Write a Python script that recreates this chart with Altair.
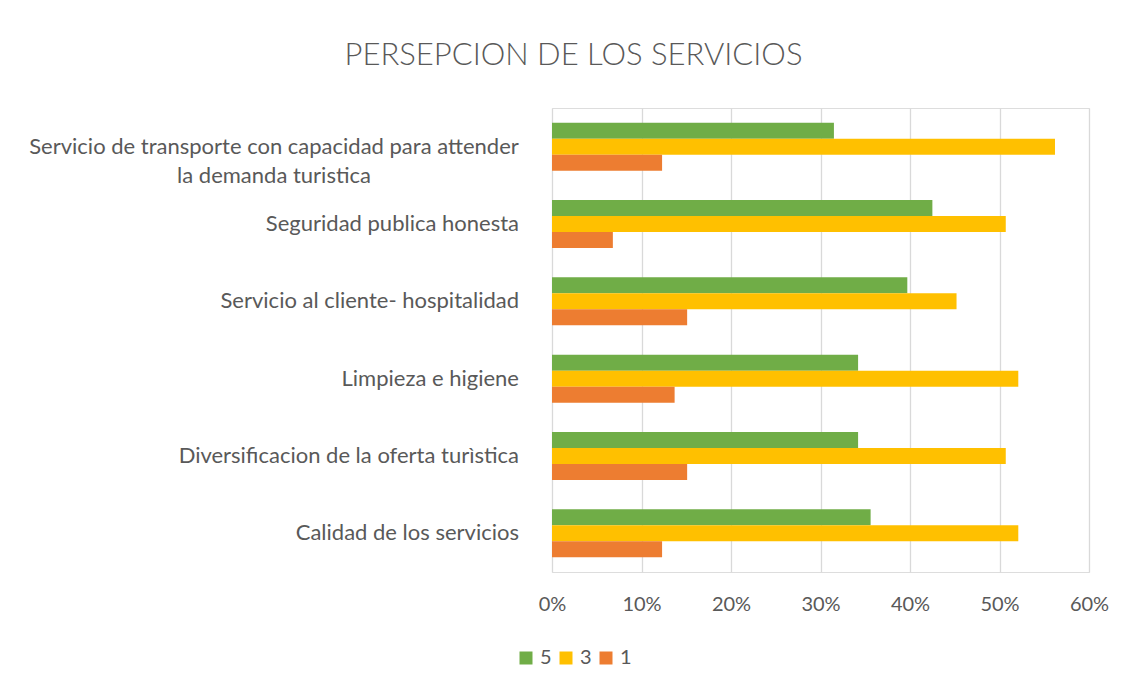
import altair as alt
import pandas as pd

categories = [
    "Servicio de transporte con capacidad para attender la demanda turistica",
    "Seguridad publica honesta",
    "Servicio al cliente- hospitalidad",
    "Limpieza e higiene",
    "Diversificacion de la oferta turìstica",
    "Calidad de los servicios",
]
label_lines = [
    ["Servicio de transporte con capacidad para attender", "la demanda turistica"],
    ["Seguridad publica honesta"],
    ["Servicio al cliente- hospitalidad"],
    ["Limpieza e higiene"],
    ["Diversificacion de la oferta turìstica"],
    ["Calidad de los servicios"],
]
series = ["5", "3", "1"]
values_5 = [0.315, 0.425, 0.397, 0.342, 0.342, 0.356]
values_3 = [0.562, 0.507, 0.452, 0.521, 0.507, 0.521]
values_1 = [0.123, 0.068, 0.151, 0.137, 0.151, 0.123]
colors = ["#70AD47", "#FFC000", "#ED7D31"]
x_ticks = [0, 0.1, 0.2, 0.3, 0.4, 0.5, 0.6]

rows = []
for s, vals in zip(series, [values_5, values_3, values_1]):
    for c, v in zip(categories, vals):
        rows.append({"cat": c, "serie": s, "val": v})
df = pd.DataFrame(rows)

lab_df = pd.DataFrame({
    "cat": categories,
    "lines": label_lines,
    "multi": [len(l) > 1 for l in label_lines],
})

FONT = "Lato"
GREY = "#595959"

y_enc = alt.Y("cat:N", sort=categories, axis=None,
              scale=alt.Scale(paddingInner=0.38, paddingOuter=0.19))

bars = alt.Chart(df).mark_bar().encode(
    x=alt.X("val:Q", scale=alt.Scale(domain=[0, 0.6], nice=False),
            axis=alt.Axis(values=x_ticks, format=".0%", title=None, domain=False,
                          ticks=False, grid=True, gridColor="#D9D9D9", gridWidth=1.3,
                          labelFontSize=20, labelColor=GREY, labelFont=FONT,
                          labelPadding=22, labelFlush=False)),
    y=y_enc,
    yOffset=alt.YOffset("serie:N", sort=series, scale=alt.Scale(paddingInner=0, paddingOuter=0)),
    color=alt.Color("serie:N", sort=series,
                    scale=alt.Scale(domain=series, range=colors),
                    legend=alt.Legend(title=None, orient="none", direction="horizontal",
                                      legendX=-36, legendY=540, symbolType="square",
                                      symbolSize=169, symbolStrokeWidth=0,
                                      labelFontSize=20, labelColor=GREY, labelFont=FONT,
                                      columnPadding=4, labelOffset=4)),
)

single = alt.Chart(lab_df).transform_filter("!datum.multi").mark_text(
    align="right", baseline="middle", fontSize=22, font=FONT, color=GREY
).encode(y=y_enc, x=alt.value(-33), text="lines:N")

multi = alt.Chart(lab_df).transform_filter("datum.multi").mark_text(
    align="center", baseline="middle", fontSize=22, font=FONT, color=GREY, lineHeight=29
).encode(y=y_enc, x=alt.value(-278), text="lines")

chart = alt.layer(bars, single, multi).properties(
    width=537, height=464,
    padding={"left": 544, "top": 100, "right": 30, "bottom": 100},
    autosize=alt.AutoSizeParams(type="none"),
    title=alt.TitleParams("PERSEPCION DE LOS SERVICIOS", fontSize=31, font=FONT,
                          color=GREY, fontWeight=300, anchor="middle",
                          dx=-247, offset=36),
).configure_view(stroke="transparent").configure(background="white")

chart.save("out.html", embed_options={"renderer": "svg", "actions": False})
